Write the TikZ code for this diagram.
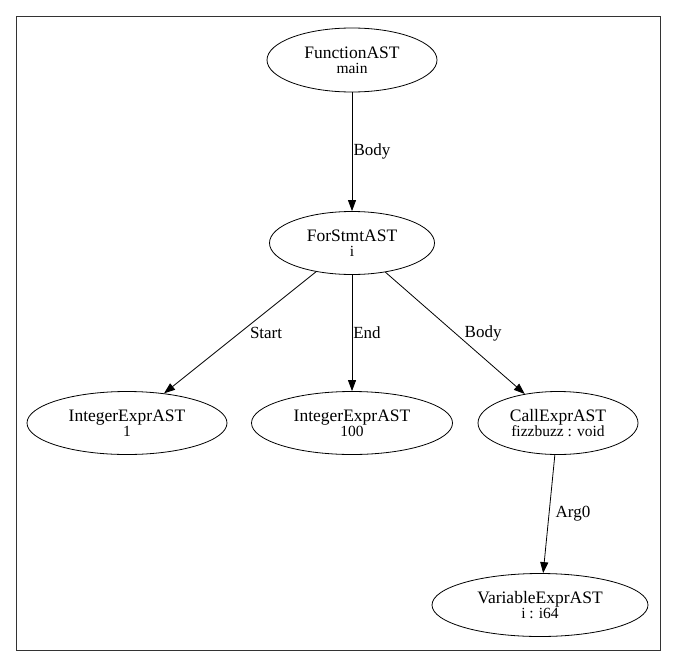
\documentclass[tikz,border=0pt]{standalone}
\usepackage{fontspec}
\setmainfont{Liberation Serif}
\usetikzlibrary{shapes.geometric,arrows.meta}

\newcommand{\astsub}[1]{{\fontsize{15.5}{15}\selectfont #1}}

\begin{document}
\begin{tikzpicture}[x=1pt,y=-1pt,
    ast/.style={shape=ellipse, draw, thick, align=center, inner sep=0pt, font=\fontsize{17.5}{18}\selectfont},
    edge/.style={draw, thick, -{Triangle[length=11pt,width=8pt]}},
    lbl/.style={font=\fontsize{17}{17}\selectfont, inner sep=1pt}]
    \useasboundingbox (0,0) rectangle (676,666);
    \draw[thick, black!80] (16,16) rectangle (660,650);

    \node[ast, minimum width=170, minimum height=64] (func) at (352,60)
        {FunctionAST\\[-3pt]\astsub{main}};
    \node[ast, minimum width=165, minimum height=63] (for) at (352,243)
        {ForStmtAST\\[-3pt]\astsub{i}};
    \node[ast, minimum width=200, minimum height=63] (start) at (127,423)
        {IntegerExprAST\\[-3pt]\astsub{1}};
    \node[ast, minimum width=201, minimum height=63] (end) at (352,423)
        {IntegerExprAST\\[-3pt]\astsub{100}};
    \node[ast, minimum width=160, minimum height=63] (call) at (558,423)
        {CallExprAST\\[-3pt]\astsub{fizzbuzz : void}};
    \node[ast, minimum width=216, minimum height=63] (var) at (540,605)
        {VariableExprAST\\[-3pt]\astsub{i : i64}};

    \draw[edge] (func) -- (for) node[lbl, pos=0.5, xshift=20pt] {Body};
    \draw[edge] (for) -- (start) node[lbl, pos=0.5, xshift=26pt] {Start};
    \draw[edge] (for) -- (end) node[lbl, pos=0.5, xshift=15pt] {End};
    \draw[edge] (for) -- (call) node[lbl, pos=0.5, xshift=28pt] {Body};
    \draw[edge] (call) -- (var) node[lbl, pos=0.5, xshift=24pt] {Arg0};
\end{tikzpicture}
\end{document}
